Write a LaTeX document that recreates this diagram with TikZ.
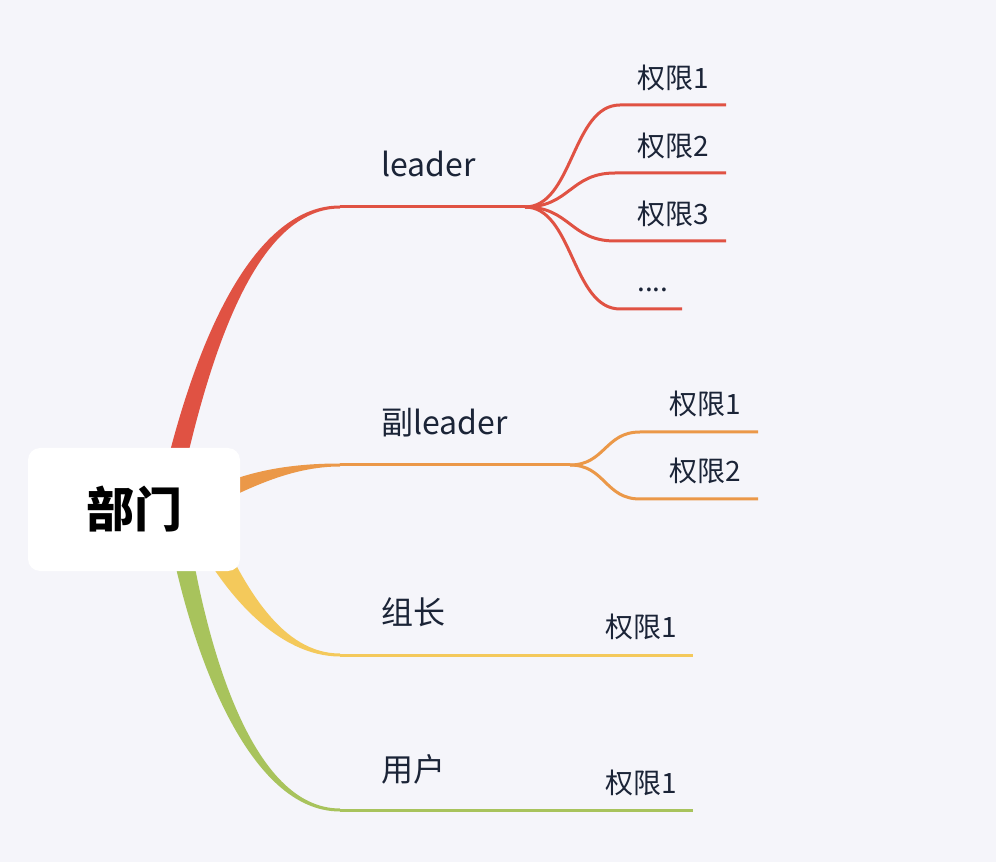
\documentclass[tikz,border=0pt]{standalone}
\usepackage{fontspec}
\newfontfamily\cjk{Noto Sans CJK SC}
\definecolor{bg}{HTML}{F5F5FA}
\definecolor{cred}{HTML}{E05243}
\definecolor{corange}{HTML}{EB9848}
\definecolor{cyellow}{HTML}{F4C95B}
\definecolor{cgreen}{HTML}{A8C35C}
\definecolor{txt}{HTML}{1B2437}
\tikzset{
  lbl/.style={font=\cjk\fontsize{24}{28}\selectfont, text=txt, anchor=base west, inner sep=0pt},
  sublbl/.style={font=\cjk\fontsize{21}{25}\selectfont, text=txt, anchor=base west, inner sep=0pt},
  twig/.style={line width=2.25pt, line cap=butt},
  rootbox/.style={fill=white, rounded corners=9pt, minimum width=159pt, minimum height=92.25pt,
    font=\cjk\bfseries\fontsize{36}{40}\selectfont, text=black, inner sep=0pt},
}
\begin{document}
\begin{tikzpicture}[x=0.75pt,y=-0.75pt]
\fill[bg] (0,0) rectangle (996,862);
\useasboundingbox (0,0) rectangle (996,862);
% tapered main branches
\fill[cred] (150,540) .. controls (191,328) and (258,205.5) .. (340,205.5) -- (340,208.5) .. controls (262,208.5) and (209,332) .. (170,540) -- cycle;
\fill[corange] (195,497) .. controls (240,471) and (290,463.5) .. (340,463.5) -- (340,466.5) .. controls (290,466.5) and (246,489) .. (195,515) -- cycle;
\fill[cyellow] (216,524) .. controls (245,588) and (282,653.5) .. (340,653.5) -- (340,656.5) .. controls (278,656.5) and (225,594) .. (194,536) -- cycle;
\fill[cgreen] (190,540) .. controls (208,648) and (252,808.5) .. (340,808.5) -- (340,811.5) .. controls (248,811.5) and (192,652) .. (170,540) -- cycle;
% root
\node[rootbox] (root) at (134,509.5) {部门};
% coordinates
\coordinate (rA) at (340,207);
\coordinate (rF) at (525,207);
\coordinate (r1s) at (620,105); \coordinate (r1e) at (726,105);
\coordinate (r2s) at (615,173); \coordinate (r2e) at (726,173);
\coordinate (r3s) at (615,241); \coordinate (r3e) at (726,241);
\coordinate (r4s) at (620,309); \coordinate (r4e) at (682,309);
\coordinate (oA) at (340,465);
\coordinate (oF) at (570,465);
\coordinate (o1s) at (640,432); \coordinate (o1e) at (758,432);
\coordinate (o2s) at (640,499); \coordinate (o2e) at (758,499);
\coordinate (yA) at (340,655); \coordinate (yE) at (693,655);
\coordinate (gA) at (340,810); \coordinate (gE) at (693,810);
% red sub-branches
\draw[twig,cred] (rA) -- (rF);
\draw[twig,cred] (rF) .. controls +(48,0) and +(-48,0) .. (r1s) -- (r1e);
\draw[twig,cred] (rF) .. controls +(45,0) and +(-45,0) .. (r2s) -- (r2e);
\draw[twig,cred] (rF) .. controls +(45,0) and +(-45,0) .. (r3s) -- (r3e);
\draw[twig,cred] (rF) .. controls +(48,0) and +(-48,0) .. (r4s) -- (r4e);
% orange sub-branches
\draw[twig,corange] (oA) -- (oF);
\draw[twig,corange] (oF) .. controls +(35,0) and +(-35,0) .. (o1s) -- (o1e);
\draw[twig,corange] (oF) .. controls +(35,0) and +(-35,0) .. (o2s) -- (o2e);
% yellow and green
\draw[twig,cyellow] (yA) -- (yE);
\draw[twig,cgreen] (gA) -- (gE);
% labels
\node[lbl] (leader) at (381,177) {leader};
\node[lbl] (fu) at (381,435) {副leader};
\node[lbl] (zz) at (381,624) {组长};
\node[lbl] (yh) at (381,781) {用户};
\node[sublbl] (r1) at (637,89) {权限1};
\node[sublbl] (r2) at (637,157) {权限2};
\node[sublbl] (r3) at (637,225) {权限3};
\node[sublbl] (r4) at (637,292) {....};
\node[sublbl] (o1) at (669,415) {权限1};
\node[sublbl] (o2) at (669,482) {权限2};
\node[sublbl] (y1) at (605,637) {权限1};
\node[sublbl] (g1) at (605,793) {权限1};
\end{tikzpicture}
\end{document}
